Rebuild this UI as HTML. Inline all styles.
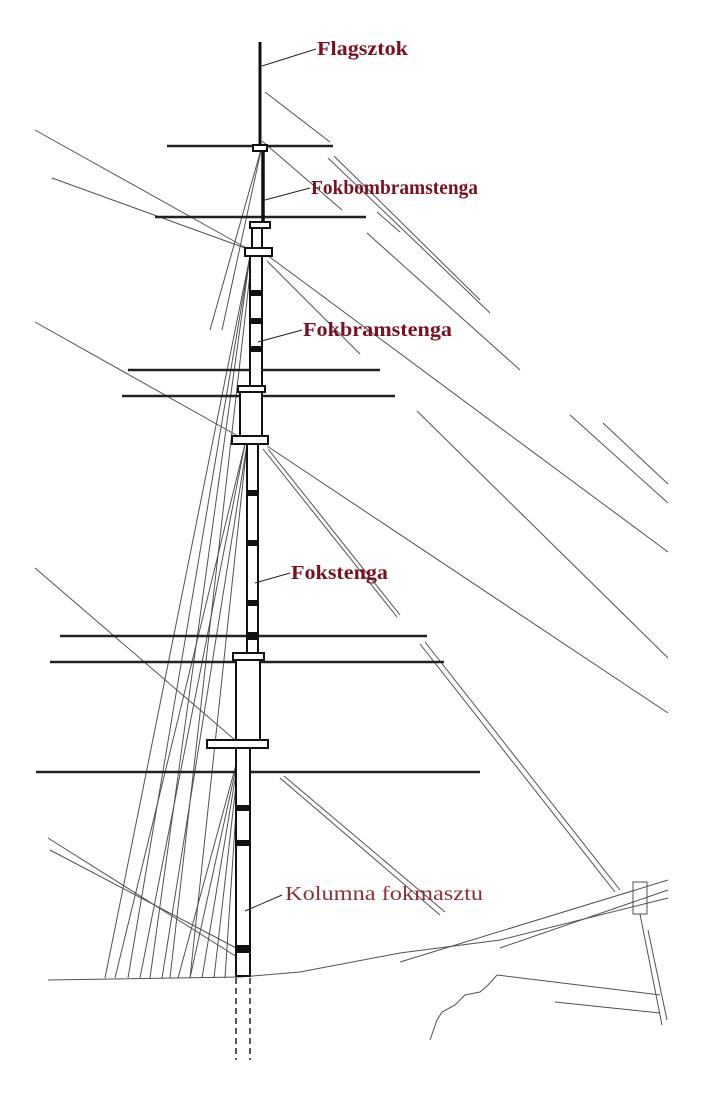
<!DOCTYPE html>
<html><head><meta charset="utf-8"><style>
html,body{margin:0;padding:0;background:#fff;width:719px;height:1103px;overflow:hidden}
svg{display:block}
text{font-family:"Liberation Serif",serif;font-weight:bold;fill:#7a1020}
</style></head><body>
<svg width="719" height="1103" viewBox="0 0 719 1103">
<g stroke="#333" stroke-width="1" fill="none" opacity="0.85">
<line x1="35" y1="130" x2="250" y2="250"/>
<line x1="52" y1="178" x2="245" y2="248"/>
<line x1="35" y1="322" x2="245" y2="440"/>
<line x1="35" y1="568" x2="235" y2="740"/>
<line x1="48" y1="838" x2="245" y2="962"/>
<line x1="50" y1="850" x2="240" y2="950"/>
<line x1="265" y1="92" x2="330" y2="142"/>
<line x1="262" y1="141" x2="342" y2="210"/>
<line x1="328" y1="158" x2="490" y2="313"/>
<line x1="334" y1="156" x2="480" y2="300"/>
<line x1="377" y1="212" x2="400" y2="232"/>
<line x1="367" y1="233" x2="520" y2="370"/>
<line x1="570" y1="415" x2="668" y2="503"/>
<line x1="603" y1="423" x2="668" y2="484"/>
<line x1="267" y1="255" x2="668" y2="552"/>
<line x1="267" y1="261" x2="360" y2="354"/>
<line x1="417" y1="411" x2="668" y2="658"/>
<line x1="267" y1="446" x2="668" y2="713"/>
<line x1="263" y1="449" x2="397" y2="617"/>
<line x1="268" y1="449" x2="400" y2="615"/>
<line x1="420" y1="644" x2="615" y2="892"/>
<line x1="425" y1="642" x2="620" y2="890"/>
<line x1="280" y1="778" x2="440" y2="915"/>
<line x1="284" y1="776" x2="445" y2="912"/>
<line x1="250" y1="256" x2="105" y2="978"/>
<line x1="250" y1="256" x2="128" y2="978"/>
<line x1="250" y1="256" x2="150" y2="978"/>
<line x1="252" y1="256" x2="170" y2="978"/>
<line x1="245" y1="444" x2="115" y2="978"/>
<line x1="245" y1="444" x2="140" y2="978"/>
<line x1="247" y1="444" x2="162" y2="978"/>
<line x1="247" y1="444" x2="190" y2="978"/>
<line x1="240" y1="750" x2="178" y2="978"/>
<line x1="240" y1="750" x2="190" y2="978"/>
<line x1="240" y1="750" x2="202" y2="978"/>
<line x1="240" y1="750" x2="214" y2="978"/>
<line x1="240" y1="750" x2="225" y2="978"/>
<line x1="262" y1="146" x2="222" y2="330"/>
<line x1="262" y1="146" x2="210" y2="330"/>
<polyline points="48,980 240,977 300,972 400,953 500,940 668,898"/>
<line x1="400" y1="962" x2="668" y2="880"/>
<line x1="500" y1="948" x2="668" y2="890"/>
<rect x="633" y="882" width="14" height="32"/>
<line x1="640" y1="914" x2="662" y2="1025"/>
<line x1="648" y1="930" x2="667" y2="1020"/>
<line x1="497" y1="975" x2="660" y2="995"/>
<line x1="555" y1="1002" x2="660" y2="1013"/>
<polyline points="497,975 488,985 480,992 465,995 455,1005 442,1012 437,1020 430,1040"/>
</g>
<g stroke="#222" stroke-width="2.5" fill="none">
<line x1="167" y1="146" x2="333" y2="146"/>
<line x1="155" y1="217" x2="366" y2="217"/>
<line x1="128" y1="370" x2="380" y2="370"/>
<line x1="122" y1="396" x2="395" y2="396"/>
<line x1="60" y1="636" x2="427" y2="636"/>
<line x1="50" y1="662" x2="444" y2="662"/>
<line x1="36" y1="772" x2="480" y2="772"/>
</g>
<g stroke="#111" fill="#fff" stroke-width="2">
<line x1="260" y1="42" x2="260" y2="148" stroke-width="3"/>
<line x1="263" y1="150" x2="263" y2="222" stroke-width="3.5"/>
<rect x="253" y="145" width="14" height="6"/>
<rect x="250" y="222" width="20" height="6"/>
<rect x="252" y="228" width="10" height="22"/>
<rect x="245" y="248" width="27" height="8"/>
<rect x="250" y="256" width="12" height="130"/>
<rect x="238" y="386" width="27" height="6"/>
<rect x="240" y="392" width="22" height="44"/>
<rect x="232" y="436" width="36" height="8"/>
<rect x="247" y="444" width="11" height="210"/>
<rect x="233" y="653" width="31" height="7"/>
<rect x="236" y="660" width="24" height="80"/>
<rect x="207" y="740" width="61" height="8"/>
<rect x="236" y="748" width="14" height="228"/>
</g>
<g fill="#111">
<rect x="250" y="290" width="12" height="6"/><rect x="250" y="318" width="12" height="6"/><rect x="250" y="346" width="12" height="6"/>
<rect x="247" y="490" width="11" height="6"/><rect x="247" y="540" width="11" height="6"/><rect x="247" y="600" width="11" height="6"/><rect x="247" y="632" width="11" height="8"/>
<rect x="236" y="805" width="14" height="6"/><rect x="236" y="840" width="14" height="6"/><rect x="236" y="945" width="14" height="8"/>
</g>
<g stroke="#222" stroke-width="1.5" stroke-dasharray="6,4">
<line x1="236" y1="978" x2="236" y2="1060"/><line x1="250" y1="978" x2="250" y2="1060"/>
</g>
<g stroke="#222" stroke-width="1">
<line x1="262" y1="66" x2="316" y2="49"/>
<line x1="265" y1="200" x2="310" y2="188"/>
<line x1="258" y1="342" x2="302" y2="330"/>
<line x1="255" y1="583" x2="290" y2="573"/>
<line x1="245" y1="911" x2="282" y2="895"/>
</g>
<text x="317" y="55" font-size="20" textLength="91" lengthAdjust="spacingAndGlyphs">Flagsztok</text>
<text x="311" y="194" font-size="20" textLength="167" lengthAdjust="spacingAndGlyphs">Fokbombramstenga</text>
<text x="303" y="336" font-size="20" textLength="149" lengthAdjust="spacingAndGlyphs">Fokbramstenga</text>
<text x="291" y="579" font-size="20" textLength="97" lengthAdjust="spacingAndGlyphs">Fokstenga</text>
<text x="285" y="900" font-size="20" textLength="198" lengthAdjust="spacingAndGlyphs" style="fill:#8a3038;font-weight:normal">Kolumna fokmasztu</text>
</svg>
</body></html>
